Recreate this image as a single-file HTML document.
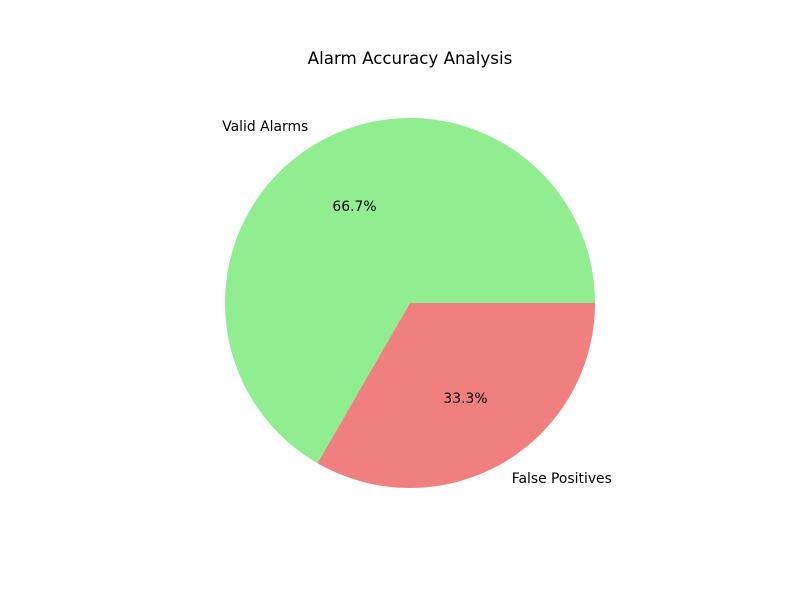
<!DOCTYPE html>
<html><head><meta charset="utf-8"><style>
body{margin:0;background:#fff;}
svg{display:block;font-family:"DejaVu Sans","Liberation Sans",sans-serif;}
</style></head><body>
<svg id="chart" width="800" height="600">
<rect width="800" height="600" fill="#fff"/>
<text x="410" y="64" text-anchor="middle" font-size="16.7" fill="#000">Alarm Accuracy Analysis</text>
<g id="slices"></g>
</svg>
<script>
const categories = ["Valid Alarms", "False Positives"];
const values = [2, 1];
const colors = ["#90ee90", "#f08080"];
const cx = 410, cy = 303, r = 185;
const ns = "http://www.w3.org/2000/svg";
const g = document.getElementById('slices');
const total = values.reduce((a, b) => a + b, 0);
let start = 0;
function pt(angDeg, rad) {
  const a = angDeg * Math.PI / 180;
  return [cx + rad * Math.cos(a), cy - rad * Math.sin(a)];
}
values.forEach((v, i) => {
  const sweep = v / total * 360;
  const end = start + sweep;
  const p1 = pt(start, r), p2 = pt(end, r);
  const large = sweep > 180 ? 1 : 0;
  const path = document.createElementNS(ns, 'path');
  path.setAttribute('d', `M${cx},${cy} L${p1[0]},${p1[1]} A${r},${r} 0 ${large} 0 ${p2[0]},${p2[1]} Z`);
  path.setAttribute('fill', colors[i]);
  
  
  g.appendChild(path);
  const mid = start + sweep / 2;
  const lp = pt(mid, r * 1.1);
  const lab = document.createElementNS(ns, 'text');
  lab.setAttribute('x', lp[0]);
  lab.setAttribute('y', lp[1] + 4);
  lab.setAttribute('font-size', '13.9');
  lab.setAttribute('text-anchor', Math.cos(mid * Math.PI / 180) >= 0 ? 'start' : 'end');
  lab.textContent = categories[i];
  
  
  g.appendChild(lab);
  const pp = pt(mid, r * 0.6);
  const pct = document.createElementNS(ns, 'text');
  pct.setAttribute('x', pp[0]);
  pct.setAttribute('y', pp[1] + 4);
  pct.setAttribute('font-size', '13.9');
  pct.setAttribute('text-anchor', 'middle');
  pct.textContent = (v / total * 100).toFixed(1) + '%';
  
  
  g.appendChild(pct);
  start = end;
});
</script>
</body></html>
